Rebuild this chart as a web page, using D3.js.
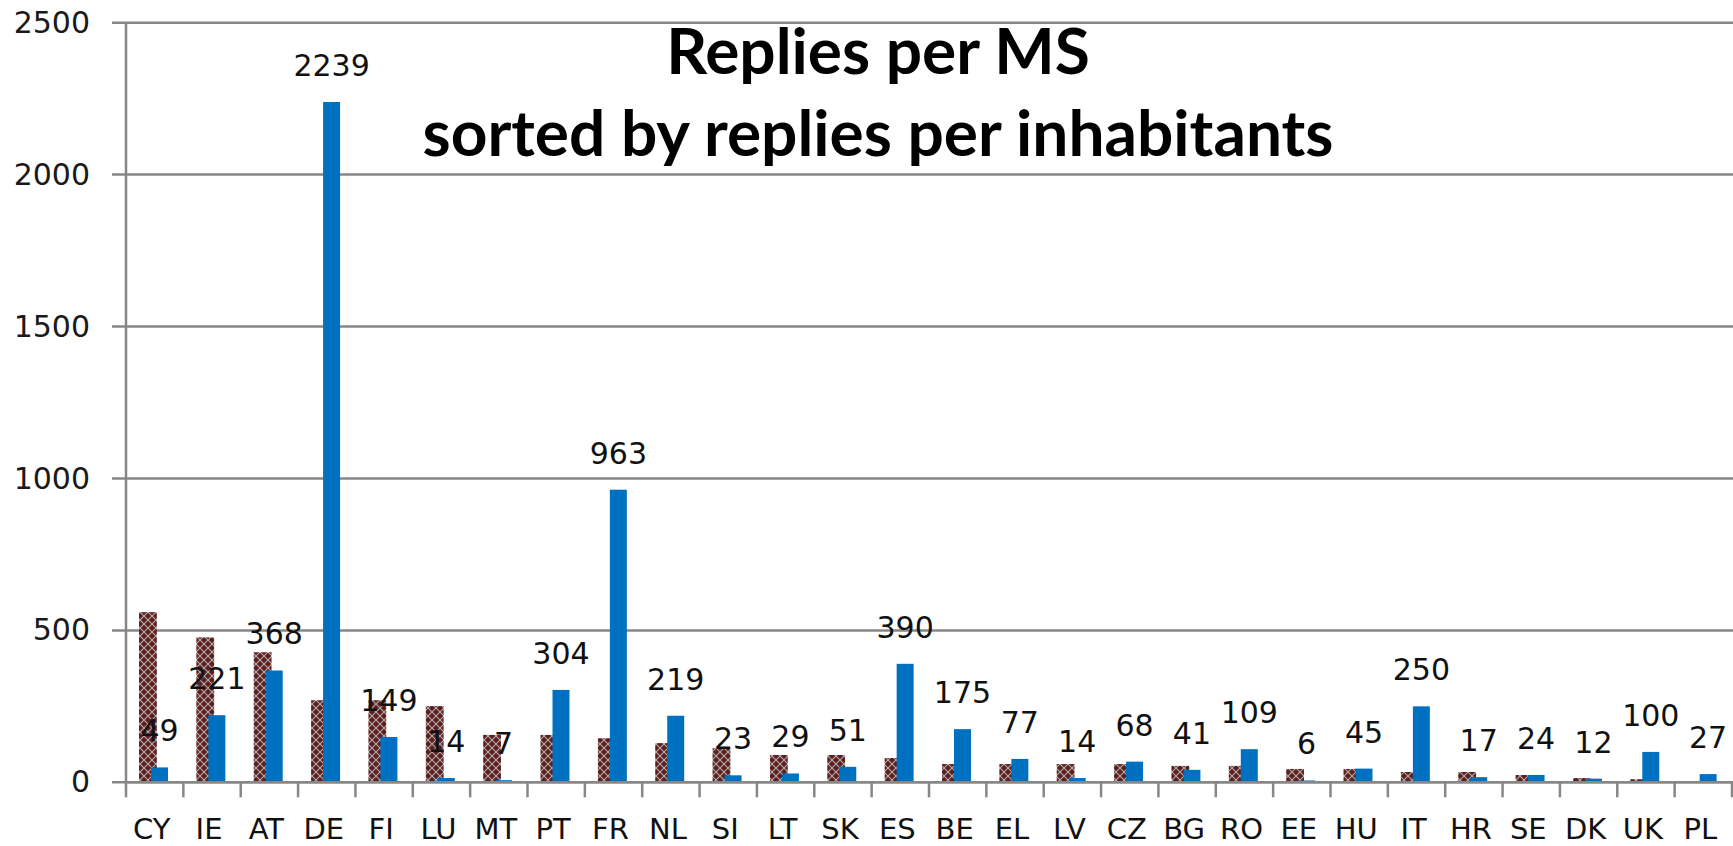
<!DOCTYPE html>
<html>
<head>
<meta charset="utf-8">
<script src="https://cdn.jsdelivr.net/npm/d3@7.9.0/dist/d3.min.js"></script>
<style>
  html, body { margin: 0; padding: 0; background: #fff; }
  svg { display: block; }
</style>
</head>
<body>
<svg id="chart" width="1733" height="846"></svg>
<script>
// member states, in the order of the chart
const countries = ['CY', 'IE', 'AT', 'DE', 'FI', 'LU', 'MT', 'PT', 'FR', 'NL', 'SI', 'LT', 'SK', 'ES',
  'BE', 'EL', 'LV', 'CZ', 'BG', 'RO', 'EE', 'HU', 'IT', 'HR', 'SE', 'DK', 'UK', 'PL'];

// replies per inhabitants (brown, hatched series)
const perInhabitants = [560, 477, 428, 270, 270, 251, 156, 156, 145, 129, 112, 90, 90, 80,
  60, 60, 60, 60, 54, 54, 44, 44, 34, 34, 24, 14, 10, 2];

// replies per MS (blue series, labelled)
const replies = [49, 221, 368, 2239, 149, 14, 7, 304, 963, 219, 23, 29, 51, 390,
  175, 77, 14, 68, 41, 109, 6, 45, 250, 17, 24, 12, 100, 27];

const yTicks = [0, 500, 1000, 1500, 2000, 2500];
const titleLines = ['Replies per MS', 'sorted by replies per inhabitants'];

const svg = d3.select('#chart');
const plotLeft = 126, plotRight = 1732, plotTop = 22.7, plotBottom = 782.3;
const gridColor = '#878787';

const x = d3.scaleBand().domain(countries).range([plotLeft, plotRight]).padding(0);
const y = d3.scaleLinear().domain([0, 2500]).range([plotBottom, plotTop]);
const bw = x.bandwidth();

// hatch pattern for the brown bars
const defs = svg.append('defs');
const pat = defs.append('pattern')
  .attr('id', 'hatch')
  .attr('patternUnits', 'userSpaceOnUse')
  .attr('width', 8).attr('height', 8);
pat.append('rect').attr('width', 8).attr('height', 8).attr('fill', '#5e1f20');
pat.append('path')
  .attr('d', 'M0,0 L8,8 M8,0 L0,8')
  .attr('stroke', '#b3abab')
  .attr('stroke-width', 1.1);

// horizontal gridlines
svg.append('g')
  .selectAll('line')
  .data(yTicks)
  .join('line')
  .attr('x1', plotLeft - 14)
  .attr('x2', 1733)
  .attr('y1', d => y(d))
  .attr('y2', d => y(d))
  .attr('stroke', gridColor)
  .attr('stroke-width', 2.5);

// y axis labels
const yAxis = svg.append('g')
  .attr('transform', `translate(${plotLeft},0)`)
  .call(d3.axisLeft(y).tickValues(yTicks).tickSize(14).tickPadding(22).tickFormat(d3.format('d')));
yAxis.select('.domain').remove();
yAxis.selectAll('line').remove();
yAxis.selectAll('text')
  .attr('font-family', 'DejaVu Sans')
  .attr('font-size', 30)
  .attr('fill', '#1a1a1a');

// bars
svg.append('g')
  .selectAll('rect')
  .data(countries)
  .join('rect')
  .attr('x', d => x(d) + bw * 0.227)
  .attr('width', bw * 0.31)
  .attr('y', (d, i) => y(perInhabitants[i]))
  .attr('height', (d, i) => plotBottom - y(perInhabitants[i]))
  .attr('fill', 'url(#hatch)');

svg.append('g')
  .selectAll('rect')
  .data(countries)
  .join('rect')
  .attr('x', d => x(d) + bw * 0.436)
  .attr('width', bw * 0.296)
  .attr('y', (d, i) => y(replies[i]))
  .attr('height', (d, i) => plotBottom - y(replies[i]))
  .attr('fill', '#0070c0');

// x axis line and ticks at band edges
svg.append('line')
  .attr('x1', plotLeft).attr('x2', 1733)
  .attr('y1', plotBottom).attr('y2', plotBottom)
  .attr('stroke', gridColor).attr('stroke-width', 2.5);
svg.append('line')
  .attr('x1', plotLeft).attr('x2', plotLeft)
  .attr('y1', plotTop).attr('y2', plotBottom + 15)
  .attr('stroke', gridColor).attr('stroke-width', 2.5);
svg.append('g')
  .selectAll('line')
  .data(countries)
  .join('line')
  .attr('x1', d => x(d) + bw).attr('x2', d => x(d) + bw)
  .attr('y1', plotBottom).attr('y2', plotBottom + 15)
  .attr('stroke', gridColor).attr('stroke-width', 2.5);

// category labels
const xAxis = svg.append('g')
  .attr('transform', `translate(0,${plotBottom})`)
  .call(d3.axisBottom(x).tickSize(0).tickPadding(36));
xAxis.select('.domain').remove();
xAxis.selectAll('text')
  .attr('dx', -3)
  .attr('font-family', 'DejaVu Sans')
  .attr('font-size', 29)
  .attr('fill', '#111');

// value labels above the blue bars
svg.append('g')
  .selectAll('text')
  .data(countries)
  .join('text')
  .attr('x', d => x(d) + bw * 0.436 + bw * 0.148)
  .attr('y', (d, i) => y(replies[i]) - 26)
  .attr('text-anchor', 'middle')
  .attr('font-family', 'DejaVu Sans')
  .attr('font-size', 30)
  .attr('fill', '#111')
  .text((d, i) => replies[i]);

// title
svg.append('g')
  .selectAll('text')
  .data(titleLines)
  .join('text')
  .attr('x', 878)
  .attr('y', (d, i) => i === 0 ? 74 : 156)
  .attr('text-anchor', 'middle')
  .attr('font-family', 'Lato')
  .attr('font-weight', 'bold')
  .attr('font-size', 64)
  .attr('fill', '#000')
  .text(d => d);
</script>
</body>
</html>
